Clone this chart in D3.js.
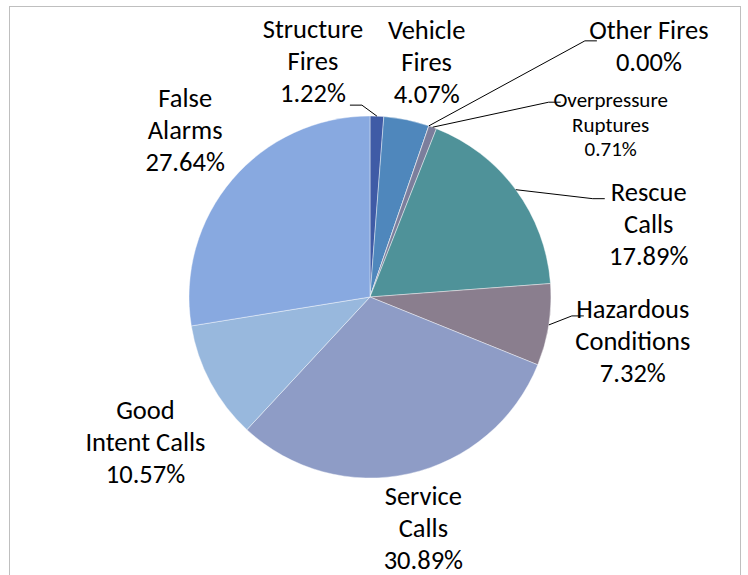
<!DOCTYPE html>
<html>
  <head>
    <meta charset="utf-8">
    <title>Incident types</title>
    <script type="text/javascript" src="https://cdn.jsdelivr.net/npm/d3@7"></script>
    <style>
      body { margin: 0; background: #fff; }
      text { font-family: Carlito, Calibri, "Open Sans", sans-serif; fill: #000; }
    </style>
  </head>
  <body>
    <script type="text/javascript">
      // chart data
      var categories = ["Structure Fires", "Vehicle Fires", "Other Fires",
        "Overpressure Ruptures", "Rescue Calls", "Hazardous Conditions",
        "Service Calls", "Good Intent Calls", "False Alarms"];
      var percents = [1.22, 4.07, 0.00, 0.71, 17.89, 7.32, 30.89, 10.57, 27.64];
      var labelLines = [["Structure", "Fires"], ["Vehicle", "Fires"], ["Other Fires"],
        ["Overpressure", "Ruptures"], ["Rescue", "Calls"], ["Hazardous", "Conditions"],
        ["Service", "Calls"], ["Good", "Intent Calls"], ["False", "Alarms"]];
      var colors = ["#3F5BA6", "#4F87BC", "#6F7FA6", "#7C7E9C", "#4F9299",
        "#8A7E8E", "#8E9CC6", "#98B8DD", "#88A9E0"];

      var w = 748
      var h = 575
      var cx = 370, cy = 297, r = 181;

      // label placement: offset of label centre from outer mid point of slice
      // leader: elbow offset relative to label centre, or null
      var labelLayout = [
        {dx: -64, dy: -55, lh: 32, fs: 26.5, leader: {ex: 49, ey: 44}},
        {dx: 20, dy: -58, lh: 32, fs: 26.5, leader: null},
        {dx: 220, dy: -80, lh: 32, fs: 26.5, leader: {ex: -64, ey: -5}},
        {dx: 178, dy: -3, lh: 24.5, fs: 21, leader: {ex: -62, ey: -22}},
        {dx: 133, dy: 34, lh: 32, fs: 26.5, leader: {ex: -56, ey: -25}},
        {dx: 84, dy: 16, lh: 32, fs: 26.5, leader: {ex: -61, ey: -25}},
        {dx: 14, dy: 54, lh: 32, fs: 26.5, leader: null},
        {dx: -65, dy: 59, lh: 32, fs: 26.5, leader: null},
        {dx: -47, dy: -50, lh: 32, fs: 26.5, leader: null}
      ];

      var svg = d3.select("body").append("svg")
        .attr("width", w)
        .attr("height", h);

      // frame
      svg.append("rect")
        .attr("x", 9.5).attr("y", 6.5)
        .attr("width", 731).attr("height", 600)
        .attr("fill", "none")
        .attr("stroke", "#BFBFBF")
        .attr("stroke-width", 1);

      var pie = d3.pie().sort(null).value(function(d) { return d; });
      var arcs = pie(percents);
      var arc = d3.arc().innerRadius(0).outerRadius(r);

      var g = svg.append("g").attr("transform", "translate(" + cx + "," + cy + ")");

      g.selectAll("path")
        .data(arcs)
        .enter()
        .append("path")
        .attr("d", arc)
        .attr("fill", function(d, i) { return colors[i]; })
        .attr("stroke", "#fff")
        .attr("stroke-width", 0.6)
        .attr("stroke-opacity", 0.7);

      function outerMid(d) {
        var a = (d.startAngle + d.endAngle) / 2;
        return [r * Math.sin(a), -r * Math.cos(a)];
      }

      arcs.forEach(function(d, i) {
        var L = labelLayout[i];
        var p = outerMid(d);
        var lx = p[0] + L.dx, ly = p[1] + L.dy;
        var lines = labelLines[i].concat([percents[i].toFixed(2) + "%"]);
        var top = ly - (lines.length - 1) * L.lh / 2;

        if (L.leader) {
          var ex = lx + L.leader.ex, ey = ly + L.leader.ey;
          var hx = ex + (L.leader.ex < 0 ? 12 : -12);
          g.append("polyline")
            .attr("points", [[hx, ey], [ex, ey], [p[0], p[1]]].map(function(q) { return q.join(","); }).join(" "))
            .attr("fill", "none")
            .attr("stroke", "#000")
            .attr("stroke-width", 1);
        }

        var t = g.append("text")
          .attr("text-anchor", "middle")
          .attr("font-size", L.fs);
        lines.forEach(function(s, k) {
          t.append("tspan")
            .attr("x", lx)
            .attr("y", top + k * L.lh)
            .attr("dy", "0.35em")
            .text(s);
        });
      });
    </script>
  </body>
</html>
